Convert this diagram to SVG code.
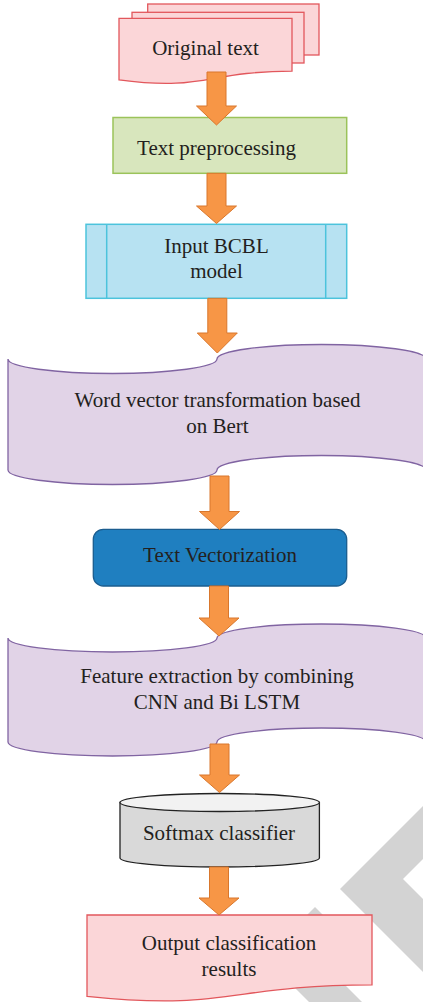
<svg xmlns="http://www.w3.org/2000/svg" width="423" height="1002" viewBox="0 0 423 1002">
  <style>
    .lbl { font-family: "Liberation Serif", "Times New Roman", serif; font-size: 21px; fill: #231f20; text-anchor: middle; }
    .arrow { fill: #f79646; stroke: #d9772c; stroke-width: 1; stroke-linejoin: miter; }
    .tape { fill: #e1d3e7; stroke: #8064a2; stroke-width: 1.3; }
    .pink { fill: #fbd6d8; stroke: #e2575c; stroke-width: 1.3; }
    .wm { fill: #d3d3d3; }
  </style>

  <rect width="423" height="1002" fill="#ffffff"/>

  <!-- background watermark strokes -->
  <g id="watermark">
    <polygon class="wm" points="423,806 340,889 423,972 423,899 403,879 423,859"/>
    <polygon class="wm" points="315,907 341,933 317.5,957.5 362,1002 309,1002 264.5,957.5"/>
  </g>

  <!-- nodes -->
  <g id="original-text">
    <rect class="pink" x="147.7" y="4" width="171.3" height="51"/>
    <rect class="pink" x="132" y="12.3" width="172" height="50.7"/>
    <path class="pink" d="M119,18.3 H292 V71.2 C205.5,71.2 205.5,91.4 119,79.9 Z"/>
    <text class="lbl" x="205.5" y="55">Original text</text>
  </g>

  <g id="text-preprocessing">
    <rect x="113" y="117.5" width="233.7" height="55.8" fill="#d8e6bd" stroke="#9bc35a" stroke-width="1.5"/>
    <text class="lbl" x="216.5" y="154.5">Text preprocessing</text>
  </g>

  <g id="input-bcbl">
    <rect x="86" y="224.3" width="260.7" height="74" fill="#b7e2f2" stroke="#4cc3dc" stroke-width="1.5"/>
    <line x1="106.7" y1="224.3" x2="106.7" y2="298.3" stroke="#4cc3dc" stroke-width="1.5"/>
    <line x1="325.7" y1="224.3" x2="325.7" y2="298.3" stroke="#4cc3dc" stroke-width="1.5"/>
    <text class="lbl" x="216.5" y="252.7">Input BCBL</text>
    <text class="lbl" x="216.5" y="278.3">model</text>
  </g>

  <g id="word-vector">
    <path class="tape" d="M8,359 A104.5,14.5 0 0 0 217,359 A104.5,14.5 0 0 1 426,359 V470 A104.5,14.5 0 0 0 217,470 A104.5,14.5 0 0 1 8,470 Z"/>
    <text class="lbl" x="217.5" y="406.7">Word vector transformation based</text>
    <text class="lbl" x="217.5" y="432.7">on Bert</text>
  </g>

  <g id="text-vectorization">
    <rect x="93.3" y="529.3" width="253.4" height="56.7" rx="10" fill="#1f7fc0" stroke="#1b5d8f" stroke-width="1.3"/>
    <text class="lbl" x="220" y="562">Text Vectorization</text>
  </g>

  <g id="feature-extraction">
    <path class="tape" d="M8,638 A104.5,14 0 0 0 217,638 A104.5,14 0 0 1 426,638 V742 A104.5,14 0 0 0 217,742 A104.5,14 0 0 1 8,742 Z"/>
    <text class="lbl" x="217" y="683">Feature extraction by combining</text>
    <text class="lbl" x="217" y="709">CNN and Bi LSTM</text>
  </g>

  <g id="softmax">
    <path d="M120,802.5 V858 A99.7,9 0 0 0 319.4,858 V802.5 Z" fill="#d9d9d9" stroke="#222222" stroke-width="1.3"/>
    <ellipse cx="219.7" cy="802.5" rx="99.7" ry="9" fill="#f2f2f2" stroke="#222222" stroke-width="1.3"/>
    <text class="lbl" x="219" y="840">Softmax classifier</text>
  </g>

  <g id="output-results">
    <path class="pink" d="M87,915 H372 V984.8 C229.5,984.8 229.5,1011.3 87,996.3 Z"/>
    <text class="lbl" x="229" y="950">Output classification</text>
    <text class="lbl" x="229" y="976">results</text>
  </g>

  <!-- block arrows between steps -->
  <g id="connectors">
    <path class="arrow" d="M207,72 H226 V106 H236.5 L216.5,125 L196.5,106 H207 Z"/>
    <path class="arrow" d="M207,173.3 H226 V206 H236.5 L216.5,223.5 L196.5,206 H207 Z"/>
    <path class="arrow" d="M207.8,298.3 H226.8 V333 H237.3 L217.3,353 L197.3,333 H207.8 Z"/>
    <path class="arrow" d="M210,476 H229 V511.5 H239.5 L219.5,529.5 L199.5,511.5 H210 Z"/>
    <path class="arrow" d="M209.5,586 H228.5 V618 H239 L219,636 L199,618 H209.5 Z"/>
    <path class="arrow" d="M210,744 H229 V775 H239.5 L219.5,792.5 L199.5,775 H210 Z"/>
    <path class="arrow" d="M209.5,867 H228.5 V898 H239 L219,915 L199,898 H209.5 Z"/>
  </g>
</svg>
